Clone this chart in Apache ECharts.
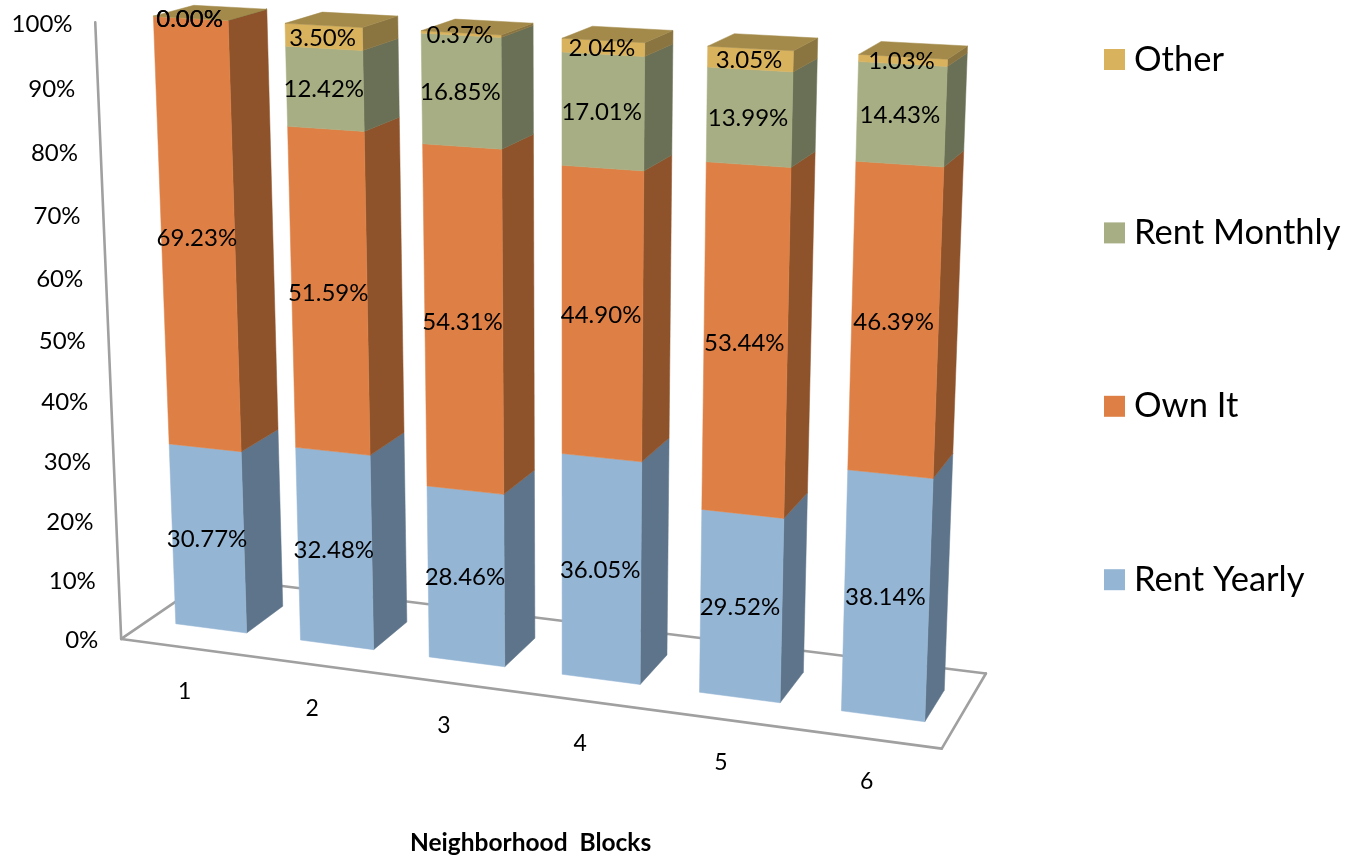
<!DOCTYPE html>
<html><head><meta charset="utf-8">
<style>html,body{margin:0;padding:0;background:#fff}#c{width:1346px;height:857px}</style>
<script src="https://cdn.jsdelivr.net/npm/echarts@6/dist/echarts.min.js"></script></head>
<body><div id="c"></div>
<script>
const categories=['1','2','3','4','5','6'];
const rentYearly=[30.77,32.48,28.46,36.05,29.52,38.14];
const ownIt=[69.23,51.59,54.31,44.90,53.44,46.39];
const rentMonthly=[0,12.42,16.85,17.01,13.99,14.43];
const other=[0.00,3.50,0.37,2.04,3.05,1.03];
const yTicks=[0,10,20,30,40,50,60,70,80,90,100];

// 3D camera of the picture: (category position, depth 0..1, value/100) -> screen
const CAMERA=[121.65504,95.73332,-31.14092,124.2955,6.46132,-22.27079,-616.53474,636.81554,-0.0157341,0.0598286,-0.0550689];
const gapL=.222,gapR=.206,d0=.28,d1=.74;
function project(x,d,v){const C=CAMERA,t=v/100,w=C[8]*x+C[9]*d+C[10]*t+1;
 return [(C[0]*x+C[1]*d+C[2]*t+C[3])/w,(C[4]*x+C[5]*d+C[6]*t+C[7])/w];}

const GL=0,GT=0,GW=600,GH=400;
const toU=px=>(px-GL)/GW*categories.length, toV=py=>(GT+GH-py)/GH*100;
const FONT='Lato, "Open Sans", sans-serif';
function segSeries(name,vals,base,front,side,top){
 return {name,type:'custom',coordinateSystem:'cartesian2d',itemStyle:{color:front},silent:true,
  data:vals.map((val,i)=>[i,base[i],base[i]+val,val]),
  renderItem(params,api){
   const lo=api.coord([api.value(0),api.value(1)]),hi=api.coord([api.value(0),api.value(2)]);
   const band=api.size([1,0])[0]/GW*categories.length;
   const uc=toU(lo[0]),L=uc-band*(.5-gapL),R=uc+band*(.5-gapR),v0=toV(lo[1]),v1=toV(hi[1]);
   const kids=[];
   const poly=(pts,fill)=>kids.push({type:'polygon',shape:{points:pts},style:{fill,stroke:fill,lineWidth:.5}});
   poly([project(R,d0,v0),project(R,d1,v0),project(R,d1,v1),project(R,d0,v1)],side);
   poly([project(L,d0,v0),project(R,d0,v0),project(R,d0,v1),project(L,d0,v1)],front);
   if(top)poly([project(L,d0,v1),project(R,d0,v1),project(R,d1,v1),project(L,d1,v1)],top);
   const c=project(uc,d0,(v0+v1)/2);
   kids.push({type:'text',z2:10,style:{x:c[0],y:c[1]+1,text:api.value(3).toFixed(2)+'%',font:'24px '+FONT,fill:'#000',align:'center',verticalAlign:'middle'}});
   return {type:'group',children:kids};
  }};
}
const b1=rentYearly, b2=rentYearly.map((v,i)=>v+ownIt[i]), b3=b2.map((v,i)=>v+rentMonthly[i]);
const frameSeries={type:'custom',name:'frame',silent:true,z:1,data:[[0,0]],
 renderItem(){const ln=(a,b)=>({type:'line',shape:{x1:a[0],y1:a[1],x2:b[0],y2:b[1]},style:{stroke:'#a0a0a0',lineWidth:2.6,lineCap:'round'}});
  const A=project(0,-.035,0),B=project(6,-.035,0),D=project(6,1.05,0),E=project(0,1.05,0),T=project(0,-.035,100);
  return {type:'group',children:[ln(A,B),ln(B,D),ln(D,E),ln(E,A),ln(A,T)]};}};
const yLabelSeries={type:'custom',name:'ylabels',silent:true,data:yTicks.map(t=>[0,t]),
 renderItem(p,api){const c=api.coord([0,api.value(1)]);const q=project(0,0,toV(c[1]));
  return {type:'text',style:{x:q[0]-26,y:q[1]+3,text:api.value(1)+'%',font:'24px '+FONT,fill:'#000',align:'right',verticalAlign:'middle'}};}};
const xLabelSeries={type:'custom',name:'xlabels',silent:true,data:categories.map((c,i)=>[i,0]),
 renderItem(p,api){const c=api.coord([api.value(0),0]);const q=project(toU(c[0]),0,0);
  return {type:'text',style:{x:q[0]-2,y:q[1]+46,text:categories[api.value(0)],font:'23px '+FONT,fill:'#000',align:'center',verticalAlign:'middle'}};}};
const chart=echarts.init(document.getElementById('c'),null,{renderer:'canvas'});
chart.setOption({animation:false,backgroundColor:'#fff',
 title:{text:'Neighborhood  Blocks',left:410,top:831,textStyle:{fontFamily:FONT,fontWeight:'bold',fontSize:24.5,color:'#000'},padding:0},
 legend:{orient:'vertical',left:1099,top:37,itemWidth:21,itemHeight:21,itemGap:138.4,icon:'rect',selectedMode:false,
  data:['Other','Rent Monthly','Own It','Rent Yearly'],textStyle:{fontFamily:FONT,fontSize:34.5,color:'#000',padding:[0,0,0,4]}},
 grid:{left:GL,top:GT,width:GW,height:GH,show:false},
 xAxis:{type:'category',data:categories,show:false},
 yAxis:{type:'value',min:0,max:100,interval:10,show:false},
 series:[frameSeries,yLabelSeries,xLabelSeries,
  segSeries('Rent Yearly',rentYearly,rentYearly.map(()=>0),'#94B5D4','#5E748A'),
  segSeries('Own It',ownIt,b1,'#DE8045','#8E532B'),
  segSeries('Rent Monthly',rentMonthly,b2,'#A7AE83','#6A7055'),
  segSeries('Other',other,b3,'#D9B25E','#8A7440','#A38A4A')]
});
</script></body></html>
